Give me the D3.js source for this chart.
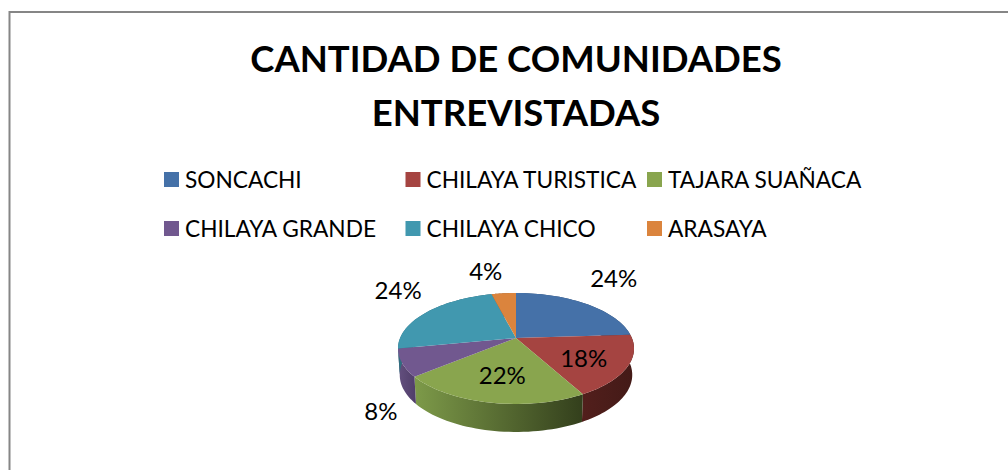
<!DOCTYPE html>
<html>
<head>
<meta charset="utf-8">
<script src="https://cdn.jsdelivr.net/npm/d3@7"></script>
<style>
  html, body { margin: 0; padding: 0; background: #fff; }
  svg { display: block; }
  text { font-family: Lato, "Open Sans", sans-serif; fill: #000; }
</style>
</head>
<body>
<svg id="chart" width="1008" height="470"></svg>
<script>
var titleLines = ["CANTIDAD DE COMUNIDADES", "ENTREVISTADAS"];
var categories = ["SONCACHI", "CHILAYA TURISTICA", "TAJARA SUAÑACA", "CHILAYA GRANDE", "CHILAYA CHICO", "ARASAYA"];
var percents = [24, 18, 22, 8, 24, 4];
var colors = ["#4571a8", "#a54441", "#89a54e", "#71588f", "#4198af", "#db843d"];
var wallLight = ["#35537a", "#521f1c", "#7d9a49", "#64507f", "#2f6f80", "#a06030"];
var wallDark = ["#2a4262", "#431a17", "#333f1c", "#513f6b", "#255a68", "#804c26"];

var svg = d3.select("#chart");

// frame, the picture is cut off right and below
svg.append("path")
    .attr("d", "M9.5,470V12H1008")
    .attr("fill", "none")
    .attr("stroke", "#868686")
    .attr("stroke-width", 2);

svg.append("g").selectAll("text")
    .data(titleLines)
    .enter().append("text")
      .attr("x", 516)
      .attr("y", function(d, i) { return 72 + i * 54; })
      .attr("text-anchor", "middle")
      .attr("font-size", 36.5)
      .attr("font-weight", 700)
      .text(function(d) { return d; });

// legend, 3 columns and 2 rows
var legendX = d3.scalePoint().domain([0, 1, 2]).range([164, 647]);
var legendY = d3.scalePoint().domain([0, 1]).range([172, 221]);

var legend = svg.selectAll(".legend")
    .data(categories)
    .enter().append("g")
      .attr("class", "legend")
      .attr("transform", function(d, i) {
        return "translate(" + legendX(i % 3) + "," + legendY(Math.floor(i / 3)) + ")";
      });

legend.append("rect")
    .attr("width", 15)
    .attr("height", 15)
    .attr("fill", function(d, i) { return colors[i]; });

legend.append("text")
    .attr("x", 21)
    .attr("y", 16)
    .attr("font-size", 22.7)
    .text(function(d) { return d; });

// pie in perspective: unit circle goes through a small projective map
var cx = 516, cy = 338, rx = 115.9, ry = 53.5, tilt = 0.189;

function project(angle) {
  var X = Math.sin(angle), Y = -Math.cos(angle), w = 1 - tilt * Y;
  return {x: cx + rx * X / w, y: cy + ry * Y / w, Y: Y};
}

function lower(p) {
  return {x: cx + (p.x - cx) * 0.985, y: p.y + 26 + 2 * p.Y};
}

var slices = d3.pie().sort(null)(percents);

function arcPoints(d) {
  return d3.range(0, 41).map(function(i) {
    return project(d.startAngle + (d.endAngle - d.startAngle) * i / 40);
  });
}

var outline = d3.line().x(function(p) { return p.x; }).y(function(p) { return p.y; });

var defs = svg.append("defs");

slices.forEach(function(d, i) {
  var pts = arcPoints(d);
  var grad = defs.append("linearGradient")
      .attr("id", "wall" + i)
      .attr("gradientUnits", "userSpaceOnUse")
      .attr("x1", d3.min(pts, function(p) { return p.x; }))
      .attr("x2", d3.max(pts, function(p) { return p.x; }))
      .attr("y1", 0).attr("y2", 0);
  grad.append("stop").attr("offset", 0).attr("stop-color", wallLight[i]);
  grad.append("stop").attr("offset", 1).attr("stop-color", wallDark[i]);
});

svg.append("g").selectAll("path")
    .data(slices)
    .enter().append("path")
      .attr("d", function(d) {
        var pts = arcPoints(d);
        return outline(pts.concat(pts.map(lower).reverse())) + "Z";
      })
      .attr("fill", function(d, i) { return "url(#wall" + i + ")"; });

svg.append("g").selectAll("path")
    .data(slices)
    .enter().append("path")
      .attr("d", function(d) {
        return outline([{x: cx, y: cy}].concat(arcPoints(d))) + "Z";
      })
      .attr("fill", function(d, i) { return colors[i]; });

// label offset from the rim point at the middle of each slice
var labelNudge = [[28, -25], [-44, -8], [13, -27], [-21, 49], [-29, -21], [-18, -22]];

svg.append("g").selectAll("text")
    .data(slices)
    .enter().append("text")
      .attr("x", function(d, i) { return project((d.startAngle + d.endAngle) / 2).x + labelNudge[i][0]; })
      .attr("y", function(d, i) { return project((d.startAngle + d.endAngle) / 2).y + labelNudge[i][1]; })
      .attr("dy", "0.35em")
      .attr("text-anchor", "middle")
      .attr("font-size", 24)
      .text(function(d) { return d.data + "%"; });
</script>
</body>
</html>
